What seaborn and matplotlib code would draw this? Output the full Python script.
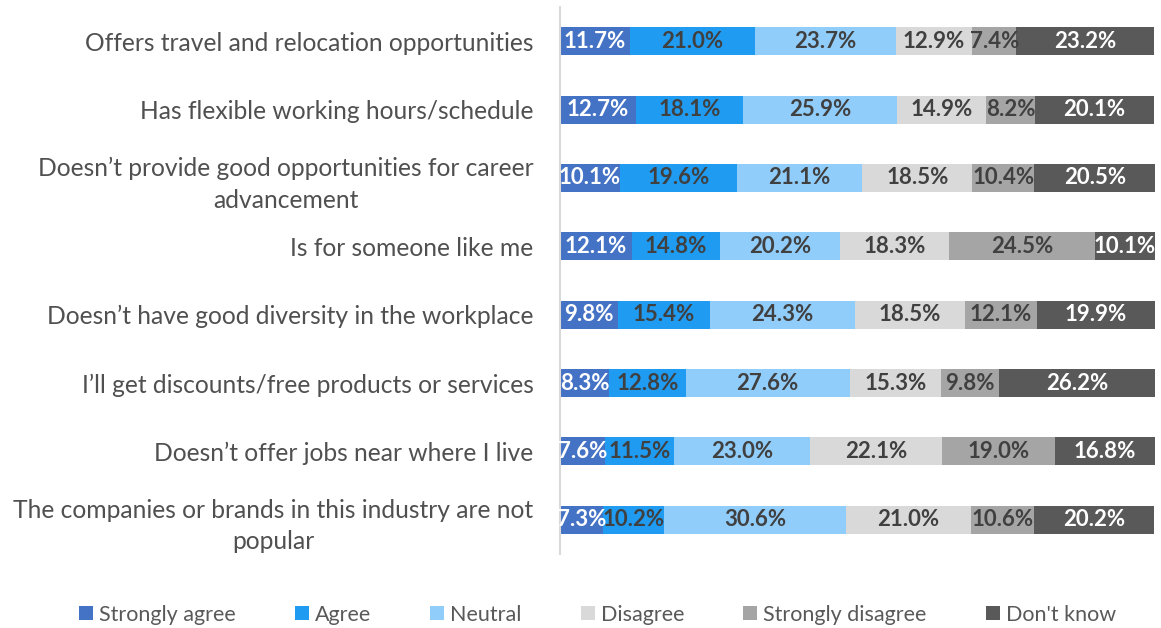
import numpy as np
import pandas as pd
import matplotlib
matplotlib.use("Agg")
import matplotlib.pyplot as plt
import seaborn as sns
from matplotlib.patches import Patch

categories = [
    "Offers travel and relocation opportunities",
    "Has flexible working hours/schedule",
    "Doesn\u2019t provide good opportunities for career\nadvancement",
    "Is for someone like me",
    "Doesn\u2019t have good diversity in the workplace",
    "I\u2019ll get discounts/free products or services",
    "Doesn\u2019t offer jobs near where I live",
    "The companies or brands in this industry are not\npopular",
]

series_names = ["Strongly agree", "Agree", "Neutral", "Disagree",
                "Strongly disagree", "Don't know"]

strongly_agree = [11.7, 12.7, 10.1, 12.1, 9.8, 8.3, 7.6, 7.3]
agree = [21.0, 18.1, 19.6, 14.8, 15.4, 12.8, 11.5, 10.2]
neutral = [23.7, 25.9, 21.1, 20.2, 24.3, 27.6, 23.0, 30.6]
disagree = [12.9, 14.9, 18.5, 18.3, 18.5, 15.3, 22.1, 21.0]
strongly_disagree = [7.4, 8.2, 10.4, 24.5, 12.1, 9.8, 19.0, 10.6]
dont_know = [23.2, 20.1, 20.5, 10.1, 19.9, 26.2, 16.8, 20.2]

series_values = [strongly_agree, agree, neutral, disagree,
                 strongly_disagree, dont_know]

colors = ["#4472C4", "#1F9BF2", "#91CDFB", "#D9D9D9", "#A5A5A5", "#595959"]
label_colors = ["white", "#404040", "#404040", "#404040", "#404040", "white"]

sns.set_theme(style="white")
plt.rcParams["font.family"] = ["Lato", "DejaVu Sans"]

values = np.array(series_values)
cum = np.cumsum(values, axis=0)

fig = plt.figure(figsize=(11.61, 6.28), dpi=100)
ax = fig.add_axes([560 / 1161, 74 / 628, 595 / 1161, 547 / 628])

# stacked bars: draw cumulative totals from the last series to the first
for i in range(len(series_names) - 1, -1, -1):
    df = pd.DataFrame({"category": categories, "total": cum[i]})
    sns.barplot(data=df, x="total", y="category", orient="h",
                color=colors[i], saturation=1, width=0.41, ax=ax,
                linewidth=0)

for i in range(len(series_names)):
    for j in range(len(categories)):
        v = values[i, j]
        ax.text(cum[i, j] - v / 2, j, f"{v:.1f}%", ha="center", va="center",
                fontsize=16, fontweight="bold", color=label_colors[i])

ax.set_xlim(0, 100)
ax.set_ylim(len(categories) - 0.5, -0.5)
ax.set_xlabel("")
ax.set_ylabel("")
ax.set_xticks([])
ax.tick_params(axis="y", length=0, pad=19, labelsize=17.7, labelcolor="#505050")
for lbl in ax.get_yticklabels():
    lbl.set_multialignment("center")
    lbl.set_linespacing(1.45)
for s in ["top", "right", "bottom"]:
    ax.spines[s].set_visible(False)
ax.spines["left"].set_color("#D9D9D9")
ax.spines["left"].set_linewidth(1.5)

handles = [Patch(facecolor=c, edgecolor="none") for c in colors]
fig.legend(handles, series_names, loc="center", bbox_to_anchor=(0.5146, 0.021),
           ncol=6, frameon=False, fontsize=15.5, labelcolor="#595959",
           handlelength=0.65, handleheight=0.65, handletextpad=0.28,
           columnspacing=2.75)

fig.savefig("out.png", dpi=100)
